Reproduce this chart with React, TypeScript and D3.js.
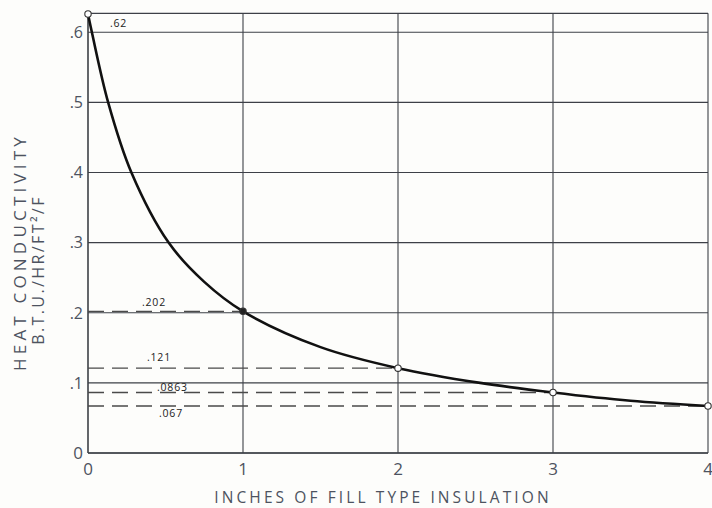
import React from "react";
import * as d3 from "d3";

const inches = [0, 1, 2, 3, 4];
const conductivity = [0.626, 0.202, 0.121, 0.0863, 0.067];
const annotationLabels = [".62", ".202", ".121", ".0863", ".067"];

// trace of the drawn curve
const curveX = [0, 0.025, 0.13, 0.28, 0.52, 0.75, 1, 1.5, 2, 2.53, 3, 3.5, 4];
const curveY = [0.626, 0.6, 0.5, 0.4, 0.3, 0.244, 0.202, 0.151, 0.121, 0.1, 0.0863, 0.0745, 0.067];

const xTicks = [0, 1, 2, 3, 4];
const yTicks = [0, 0.1, 0.2, 0.3, 0.4, 0.5, 0.6];
const yTickLabels = ["0", ".1", ".2", ".3", ".4", ".5", ".6"];

const W = 712;
const H = 508;

export default function App() {
  const yMax = 0.627;
  const x = d3.scaleLinear().domain([0, 4]).range([88, 708]);
  const y = d3.scaleLinear().domain([0, yMax]).range([453, 13.3]);

  const line = d3
    .line<number>()
    .x((_, i) => x(curveX[i]))
    .y((d) => y(d))
    .curve(d3.curveCatmullRom.alpha(0.5));

  const grid = "#3d4047";
  const text = "#4d5360";
  const font = "'Open Sans', 'DejaVu Sans', sans-serif";

  return (
    <svg
      width={W}
      height={H}
      style={{ position: "fixed", left: 0, top: 0, background: "#fdfdfb" }}
      fontFamily={font}
    >
      {yTicks.map((t) => (
        <line key={"h" + t} x1={x(0)} x2={x(4)} y1={y(t)} y2={y(t)} stroke={grid} strokeWidth={1.1} />
      ))}
      <line x1={x(0)} x2={x(4)} y1={y(yMax)} y2={y(yMax)} stroke={grid} strokeWidth={1.2} />
      {xTicks.map((t) => (
        <line key={"v" + t} x1={x(t)} x2={x(t)} y1={y(0)} y2={y(yMax)} stroke={grid} strokeWidth={t === 0 ? 1.6 : 1.1} />
      ))}
      <line x1={x(0)} x2={x(4)} y1={y(0)} y2={y(0)} stroke={grid} strokeWidth={1.6} />

      {conductivity.slice(1).map((v, i) => (
        <line
          key={"d" + i}
          x1={x(0)}
          x2={x(inches[i + 1])}
          y1={y(v)}
          y2={y(v)}
          stroke="#4a4a4a"
          strokeWidth={1.3}
          strokeDasharray="16,8"
        />
      ))}

      {annotationLabels.map((l, i) => {
        const v = conductivity[i];
        const offs = [
          { dx: 22, dy: 13 },
          { dx: 54, dy: -5 },
          { dx: 59, dy: -7 },
          { dx: 69, dy: -1 },
          { dx: 71, dy: 11 },
        ][i];
        return (
          <text key={"a" + i} x={x(0) + offs.dx} y={y(v) + offs.dy} fontSize={10.5} fill="#222" letterSpacing={0.8}>
            {l}
          </text>
        );
      })}

      <path d={line(curveY) || ""} fill="none" stroke="#111" strokeWidth={2.6} strokeLinecap="round" />

      {inches.map((d, i) => (
        <circle key={"p" + i} cx={x(d)} cy={y(conductivity[i])} r={3.2} fill={i === 1 ? "#222" : "#fff"} stroke="#333" strokeWidth={1.1} />
      ))}

      {yTicks.map((t, i) => (
        <text key={"yl" + t} x={83} y={y(t)} dy="0.36em" textAnchor="end" fontSize={t === 0 ? 17 : 16} fill={text}>
          {yTickLabels[i]}
        </text>
      ))}

      {xTicks.map((t) => (
        <text key={"xl" + t} x={x(t)} y={475} textAnchor="middle" fontSize={17} fill={text}>
          {t}
        </text>
      ))}

      <text x={383} y={503} textAnchor="middle" fontSize={15.5} fill={text} letterSpacing={3.1}>
        INCHES OF FILL TYPE INSULATION
      </text>
      <text
        transform={`translate(26,252) rotate(-90)`}
        textAnchor="middle"
        fontSize={17}
        fill={text}
        letterSpacing={4.2}
      >
        HEAT CONDUCTIVITY
      </text>
      <text
        transform={`translate(44,270) rotate(-90)`}
        textAnchor="middle"
        fontSize={16}
        fill={text}
        letterSpacing={2.4}
      >
        B.T.U./HR/FT²/F
      </text>
    </svg>
  );
}
